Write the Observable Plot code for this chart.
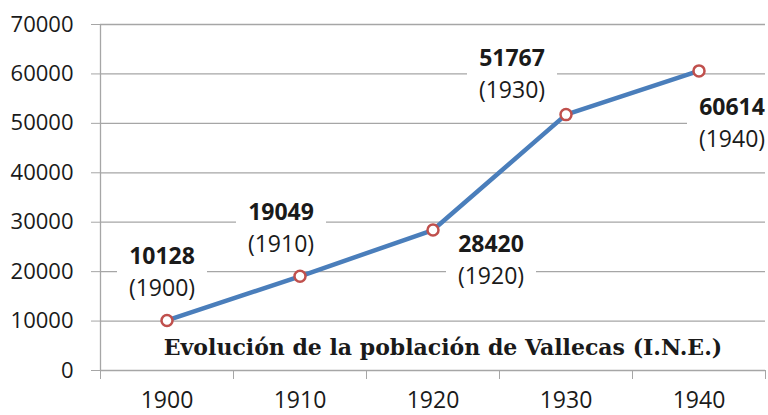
<!DOCTYPE html>
<html><head><meta charset="utf-8">
<script src="https://cdn.jsdelivr.net/npm/d3@7"></script>
<script src="https://cdn.jsdelivr.net/npm/@observablehq/plot@0.6"></script>
<style>body{margin:0;background:#fff}</style>
</head><body><div id="chart"></div>
<script>
const years = [1900, 1910, 1920, 1930, 1940];
const population = [10128, 19049, 28420, 51767, 60614];
const yTicks = [0, 10000, 20000, 30000, 40000, 50000, 60000, 70000];
const xTickLabels = ["1900", "1910", "1920", "1930", "1940"];
const title = "Evolución de la población de Vallecas (I.N.E.)";

// layout of the data-label boxes (pixel offsets from each point)
const labelDx = [-5, -19, 58, -54, 33];
const labelDy = [-48, -48, 31, -40, 53];

const data = years.map((year, i) => ({year, population: population[i], label: xTickLabels[i]}));
const boundaries = years.map(y => y - 5).concat([years[years.length - 1] + 5]);

const gridColor = "#a6a6a6";
const textColor = "#1a1a1a";
const font = "'Open Sans', sans-serif";

const boxSymbol = {draw(ctx) { ctx.rect(-45, -33, 90, 66); }};

const labelMarks = data.flatMap((d, i) => [
  Plot.dot([d], {x: "year", y: "population", symbol: boxSymbol, r: 10, fill: "white", stroke: null, dx: labelDx[i], dy: labelDy[i]}),
  Plot.text([d], {x: "year", y: "population", text: d => String(d.population), fontWeight: "bold", fontSize: 23, fill: textColor, dx: labelDx[i], dy: labelDy[i] - 16}),
  Plot.text([d], {x: "year", y: "population", text: d => `(${d.label})`, fontSize: 23, fill: textColor, dx: labelDx[i], dy: labelDy[i] + 16})
]);

const chart = Plot.plot({
  width: 768,
  height: 415,
  marginLeft: 100,
  marginRight: 3,
  marginTop: 24,
  marginBottom: 45,
  style: {fontFamily: font, background: "white"},
  x: {domain: [boundaries[0], boundaries[boundaries.length - 1]]},
  y: {domain: [0, 70000]},
  marks: [
    Plot.gridY(yTicks, {stroke: gridColor, strokeOpacity: 1, strokeWidth: 1.3}),
    Plot.ruleX([boundaries[0]], {stroke: gridColor, strokeWidth: 1.3}),
    Plot.axisY(yTicks, {tickSize: 9, tickPadding: 18, stroke: gridColor, fill: textColor, fontSize: 22, tickFormat: d => String(d), label: null}),
    Plot.axisX(boundaries, {tickSize: 9, stroke: gridColor, text: null, label: null}),
    Plot.axisX(years, {tickSize: 0, tickPadding: 21, fill: textColor, fontSize: 23, tickFormat: (d, i) => xTickLabels[i], label: null}),
    ...labelMarks,
    Plot.text([title], {frameAnchor: "bottom", lineAnchor: "middle", dx: 10, dy: -23, fontFamily: "'DejaVu Serif', serif", fontWeight: "bold", fontSize: 22, fill: textColor}),
    Plot.line(data, {x: "year", y: "population", stroke: "#4a7ebb", strokeWidth: 4.5}),
    Plot.dot(data, {x: "year", y: "population", r: 5.5, fill: "white", stroke: "#c0504d", strokeWidth: 2.5})
  ]
});
document.getElementById("chart").append(chart);
</script>
</body></html>
